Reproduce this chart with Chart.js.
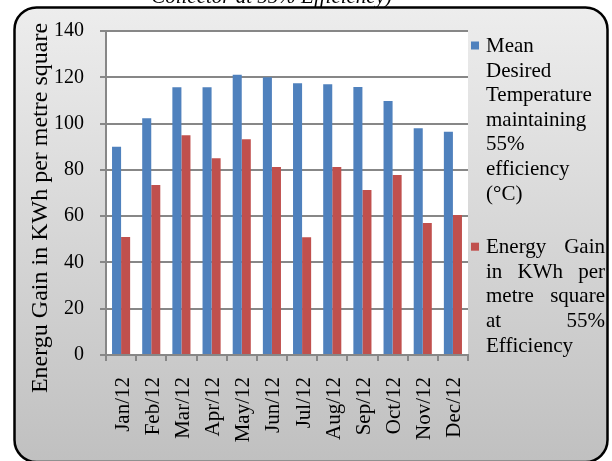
<!DOCTYPE html>
<html>
<head>
<meta charset="utf-8">
<script src="https://cdn.jsdelivr.net/npm/chart.js@4/dist/chart.umd.min.js"></script>
<style>
  html, body { margin: 0; padding: 0; background: #fff; overflow: hidden; }
  canvas { display: block; }
</style>
</head>
<body>
<canvas id="chart" width="612" height="461"></canvas>
<script>
// Monthly figures for 2012
const months = ['Jan/12', 'Feb/12', 'Mar/12', 'Apr/12', 'May/12', 'Jun/12',
                'Jul/12', 'Aug/12', 'Sep/12', 'Oct/12', 'Nov/12', 'Dec/12'];
const meanTemperature = [90.0, 102.3, 115.7, 115.7, 121.1, 120.0, 117.4, 117.0, 115.8, 109.8, 98.0, 96.5];
const energyGain = [51.0, 73.5, 94.9, 85.0, 93.2, 81.2, 50.9, 81.2, 71.3, 77.8, 57.0, 60.5];

const seriesNames = [
  'Mean Desired Temperature maintaining 55% efficiency (°C)',
  'Energy Gain in KWh per metre square at 55% Efficiency'
];
const seriesColors = ['#4F81BD', '#C0504D'];
const yAxisTitle = 'Energu Gain in KWh per metre square';
const captionText = 'Collector at 55% Efficiency)';
const yMin = 0, yMax = 140, yStep = 20;

const SERIF = '"Liberation Serif", "Times New Roman", serif';
const GRID = '#878787';

// Rounded grey panel behind the chart, white plot area, caption line above
const panelPlugin = {
  id: 'panel',
  beforeDraw(chart) {
    const ctx = chart.ctx;
    ctx.save();
    ctx.font = 'italic 21px ' + SERIF;
    ctx.fillStyle = '#000';
    ctx.textAlign = 'right';
    ctx.textBaseline = 'alphabetic';
    ctx.fillText(captionText, 392, 3);

    const x0 = 14.5, y0 = 7.5, x1 = 607.5, y1 = 462, r = 22;
    const g = ctx.createLinearGradient(0, y0, 0, y1);
    g.addColorStop(0, '#ededed');
    g.addColorStop(1, '#c0c0c0');
    ctx.beginPath();
    ctx.roundRect(x0, y0, x1 - x0, y1 - y0, r);
    ctx.fillStyle = g;
    ctx.fill();
    ctx.lineWidth = 2.5;
    ctx.strokeStyle = '#000';
    ctx.stroke();

    const a = chart.chartArea;
    ctx.fillStyle = '#fff';
    ctx.fillRect(a.left, a.top, a.right - a.left, a.bottom - a.top);
    ctx.restore();
  }
};

// Rotated value-axis title
const axisTitlePlugin = {
  id: 'axisTitle',
  afterDraw(chart) {
    const ctx = chart.ctx;
    ctx.save();
    ctx.translate(46.5, 208);
    ctx.rotate(-Math.PI / 2);
    ctx.font = '24px ' + SERIF;
    ctx.fillStyle = '#000';
    ctx.textAlign = 'center';
    ctx.textBaseline = 'alphabetic';
    ctx.fillText(yAxisTitle, 0, 0);
    ctx.restore();
  }
};

// Legend on the right with wrapped, justified entry text
function wrapWords(ctx, text, maxW) {
  const words = text.split(' ');
  const lines = [];
  let cur = [];
  words.forEach(w => {
    const trial = cur.concat([w]).join(' ');
    if (cur.length && ctx.measureText(trial).width > maxW) {
      lines.push(cur);
      cur = [w];
    } else {
      cur.push(w);
    }
  });
  if (cur.length) lines.push(cur);
  return lines;
}

const sideLegendPlugin = {
  id: 'sideLegend',
  afterDraw(chart) {
    const ctx = chart.ctx;
    const textX = 486, wrapW = 115, justifyW = 119, lineH = 24.6, entryGap = 29;
    let base = 52;
    ctx.save();
    ctx.font = '21px ' + SERIF;
    ctx.textBaseline = 'alphabetic';
    ctx.textAlign = 'left';
    chart.data.datasets.forEach(ds => {
      ctx.fillStyle = ds.backgroundColor;
      ctx.fillRect(471, base - 10.5, 8, 8);
      ctx.fillStyle = '#000';
      const lines = wrapWords(ctx, ds.label, wrapW);
      lines.forEach((words, j) => {
        const isLast = j === lines.length - 1;
        if (!isLast && words.length > 1) {
          const widths = words.map(w => ctx.measureText(w).width);
          const total = widths.reduce((s, v) => s + v, 0);
          const gap = (justifyW - total) / (words.length - 1);
          let x = textX;
          words.forEach((w, k) => { ctx.fillText(w, x, base); x += widths[k] + gap; });
        } else {
          ctx.fillText(words.join(' '), textX, base);
        }
        base += lineH;
      });
      base += entryGap;
    });
    ctx.restore();
  }
};

new Chart(document.getElementById('chart'), {
  type: 'bar',
  data: {
    labels: months,
    datasets: [
      { label: seriesNames[0], data: meanTemperature, backgroundColor: seriesColors[0],
        categoryPercentage: 0.6, barPercentage: 1.0 },
      { label: seriesNames[1], data: energyGain, backgroundColor: seriesColors[1],
        categoryPercentage: 0.6, barPercentage: 1.0 }
    ]
  },
  options: {
    responsive: false,
    animation: false,
    devicePixelRatio: 1,
    layout: { padding: { left: 0, top: 31, right: 144, bottom: 0 } },
    plugins: { legend: { display: false }, tooltip: { enabled: false } },
    scales: {
      x: {
        grid: { drawOnChartArea: false, drawTicks: true, tickLength: 6, color: GRID, lineWidth: 2, offset: true },
        border: { color: GRID, width: 2 },
        ticks: { minRotation: 90, maxRotation: 90, autoSkip: false, padding: 16, labelOffset: 2, color: '#000',
                 font: { family: SERIF, size: 21 } },
        afterFit(scale) { scale.height = 106; }
      },
      y: {
        min: yMin, max: yMax,
        ticks: { stepSize: yStep, padding: 16, color: '#000', font: { family: SERIF, size: 20 } },
        grid: { color: GRID, lineWidth: 2, tickLength: 6 },
        border: { color: GRID, width: 2 },
        afterFit(scale) { scale.width = 106; }
      }
    }
  },
  plugins: [panelPlugin, axisTitlePlugin, sideLegendPlugin]
});
</script>
</body>
</html>
